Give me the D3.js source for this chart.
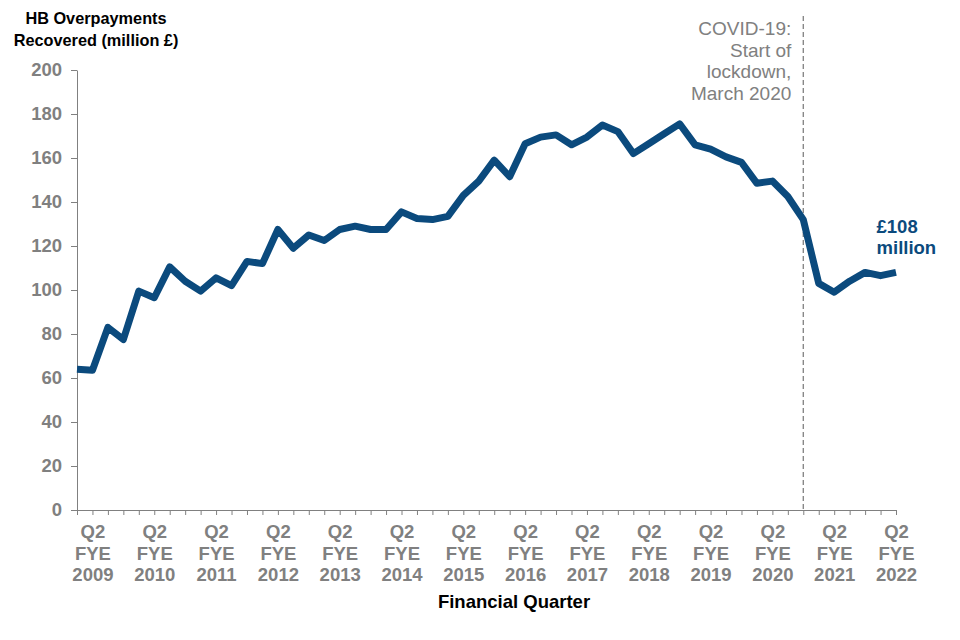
<!DOCTYPE html>
<html>
<head>
<meta charset="utf-8">
<script src="https://cdn.jsdelivr.net/npm/d3@7"></script>
<style>
  body { margin: 0; background: #fff; }
  svg { display: block; font-family: 'Liberation Sans', Arial, sans-serif; }
</style>
</head>
<body>
<svg id="chart"></svg>
<script>
// Quarters run Q1 FYE 2009 .. Q2 FYE 2022
const fyeYears = [2009, 2010, 2011, 2012, 2013, 2014, 2015, 2016, 2017, 2018, 2019, 2020, 2021, 2022];
const quarters = ['Q1', 'Q2', 'Q3', 'Q4'];
const categories = fyeYears.flatMap(y => quarters.map(q => `${q} FYE ${y}`)).slice(0, 54);

// HB overpayments recovered, £ million
const recovered = [
  64, 63.5, 83, 77.5, 99.5, 96.5, 110.5, 104, 99.5, 105.5,
  102, 113, 112, 127.5, 119, 125, 122.5, 127.5, 129, 127.5,
  127.5, 135.5, 132.5, 132, 133.5, 143, 149.5, 159, 151.5, 166.5,
  169.5, 170.5, 166, 169.5, 175, 172, 162, 166.5, 171, 175.5,
  166, 164, 160.5, 158, 148.5, 149.5, 142.5, 132, 103, 99,
  104, 108, 106.5, 108
];

const yTicks = [0, 20, 40, 60, 80, 100, 120, 140, 160, 180, 200];
const lockdownQuarter = 'Q4 FYE 2020';
const lockdownNote = ['COVID-19:', 'Start of', 'lockdown,', 'March 2020'];
const endNote = ['£108', 'million'];

const width = 960, height = 640;
const margin = { top: 70, right: 64, bottom: 130, left: 77 };
const grey = '#808080';
const blue = '#0b4a7d';

const svg = d3.select('#chart').attr('width', width).attr('height', height);

const x = d3.scalePoint()
  .domain(categories)
  .range([margin.left, width - margin.right]);

const y = d3.scaleLinear()
  .domain([0, 200])
  .range([height - margin.bottom, margin.top]);

// y axis
const yAxis = svg.append('g')
  .attr('transform', `translate(${margin.left},0)`)
  .call(d3.axisLeft(y).tickValues(yTicks).tickSize(6).tickSizeOuter(0).tickPadding(9));
yAxis.select('.domain').attr('stroke', grey);
yAxis.selectAll('line').attr('stroke', grey);
yAxis.selectAll('text')
  .attr('fill', grey)
  .attr('font-size', 18.5)
  .attr('font-weight', 'bold')
  .attr('font-family', "'Liberation Sans', Arial, sans-serif");

// x axis, labels only on Q2
const xAxis = svg.append('g')
  .attr('transform', `translate(0,${height - margin.bottom})`)
  .call(d3.axisBottom(x).tickSize(5).tickSizeOuter(0).tickFormat(''));
xAxis.select('.domain').attr('stroke', grey);
xAxis.selectAll('line').attr('stroke', grey);
xAxis.selectAll('.tick text').remove();

xAxis.selectAll('.tick')
  .filter(d => d.startsWith('Q2'))
  .append('text')
  .attr('fill', grey)
  .attr('font-size', 18.5)
  .attr('font-weight', 'bold')
  .attr('text-anchor', 'middle')
  .selectAll('tspan')
  .data(d => d.split(' '))
  .join('tspan')
  .attr('x', 0)
  .attr('y', (d, i) => 28 + i * 21.5)
  .text(d => d);

// lockdown marker
const lx = x(lockdownQuarter);
svg.append('line')
  .attr('x1', lx).attr('x2', lx)
  .attr('y1', 16).attr('y2', height - margin.bottom)
  .attr('stroke', grey)
  .attr('stroke-width', 1.3)
  .attr('stroke-dasharray', '5,3');

svg.append('text')
  .attr('fill', grey)
  .attr('font-size', 19)
  .attr('text-anchor', 'end')
  .selectAll('tspan')
  .data(lockdownNote)
  .join('tspan')
  .attr('x', lx - 12)
  .attr('y', (d, i) => 35 + i * 21.5)
  .text(d => d);

// series line
svg.append('path')
  .datum(recovered)
  .attr('fill', 'none')
  .attr('stroke', blue)
  .attr('stroke-width', 7)
  .attr('stroke-linejoin', 'round')
  .attr('d', d3.line()
    .x((d, i) => x(categories[i]))
    .y(d => y(d)));

// end label
svg.append('text')
  .attr('fill', blue)
  .attr('font-size', 18.5)
  .attr('font-weight', 'bold')
  .selectAll('tspan')
  .data(endNote)
  .join('tspan')
  .attr('x', x(categories[52]) - 4)
  .attr('y', (d, i) => 233 + i * 20.5)
  .text(d => d);

// axis titles
svg.append('text')
  .attr('font-size', 16.3)
  .attr('font-weight', 'bold')
  .attr('text-anchor', 'middle')
  .attr('fill', '#000')
  .selectAll('tspan')
  .data(['HB Overpayments', 'Recovered (million £)'])
  .join('tspan')
  .attr('x', 96)
  .attr('y', (d, i) => 24 + i * 22)
  .text(d => d);

svg.append('text')
  .attr('x', 514)
  .attr('y', 608)
  .attr('font-size', 18.5)
  .attr('font-weight', 'bold')
  .attr('text-anchor', 'middle')
  .attr('fill', '#000')
  .text('Financial Quarter');
</script>
</body>
</html>
